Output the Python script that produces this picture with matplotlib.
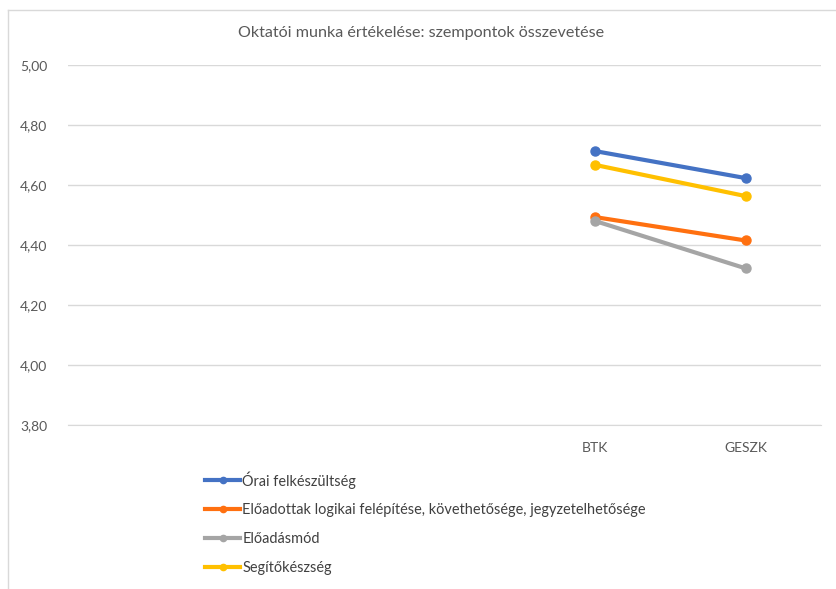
import matplotlib
matplotlib.use("Agg")
import matplotlib.pyplot as plt
from matplotlib.lines import Line2D

categories = ["", "", "", "BTK", "GESZK"]
series_names = [
    "Órai felkészültség",
    "Előadottak logikai felépítése, követhetősége, jegyzetelhetősége",
    "Előadásmód",
    "Segítőkészség",
]
orai = [None, None, None, 4.713, 4.623]
eloadottak = [None, None, None, 4.493, 4.415]
eloadasmod = [None, None, None, 4.48, 4.322]
segito = [None, None, None, 4.667, 4.563]
colors = ["#4472C4", "#FF7010", "#A5A5A5", "#FFC000"]
yticks = [3.80, 4.00, 4.20, 4.40, 4.60, 4.80, 5.00]

plt.rcParams['font.family'] = ['Lato', 'DejaVu Sans']

fig = plt.figure(figsize=(8.36, 5.89), dpi=100)
W, H = 836, 589
ax = fig.add_axes([68 / W, 1 - 425 / H, (821 - 68) / W, (425 - 65) / H])

x = list(range(len(categories)))
data = [orai, eloadottak, eloadasmod, segito]
for name, vals, c in zip(series_names, data, colors):
    xs = [i for i, v in zip(x, vals) if v is not None]
    ys = [v for v in vals if v is not None]
    ax.plot(xs, ys, color=c, lw=3, marker='o', ms=6.5, label=name, solid_capstyle='round')

ax.set_xlim(-0.5, len(categories) - 0.5)
ax.set_ylim(3.80, 5.00)
ax.set_yticks(yticks)
ax.set_yticklabels([f"{t:.2f}".replace('.', ',') for t in yticks])
ax.set_xticks(x)
ax.set_xticklabels(categories)
ax.tick_params(axis='both', length=0, labelsize=10, colors='#595959')
ax.tick_params(axis='y', pad=15)
ax.tick_params(axis='x', pad=12)
ax.grid(axis='y', color='#D9D9D9', lw=1)
ax.set_axisbelow(True)
for s in ['top', 'right', 'left']:
    ax.spines[s].set_visible(False)
ax.spines['bottom'].set_color('#D9D9D9')

fig.text(421.5 / W, 1 - 33 / H, "Oktatói munka értékelése: szempontok összevetése",
         ha='center', va='center', fontsize=11.6, color='#595959')

handles = [Line2D([], [], color=c, lw=3, marker='o', ms=4.5) for c in colors]
fig.legend(handles, series_names, loc='upper left', bbox_to_anchor=(192 / W, 1 - 458 / H),
           frameon=False, fontsize=10.45, labelcolor='#404040', handlelength=2.42,
           handletextpad=0.15, labelspacing=1.02)

# chart frame (partial, as in reference)
fig.add_artist(Line2D([8 / W, 8 / W], [0, 1 - 10 / H], color='#D9D9D9', lw=1))
fig.add_artist(Line2D([8 / W, 1], [1 - 10 / H, 1 - 10 / H], color='#D9D9D9', lw=1))

fig.savefig("out.png", dpi=100)
